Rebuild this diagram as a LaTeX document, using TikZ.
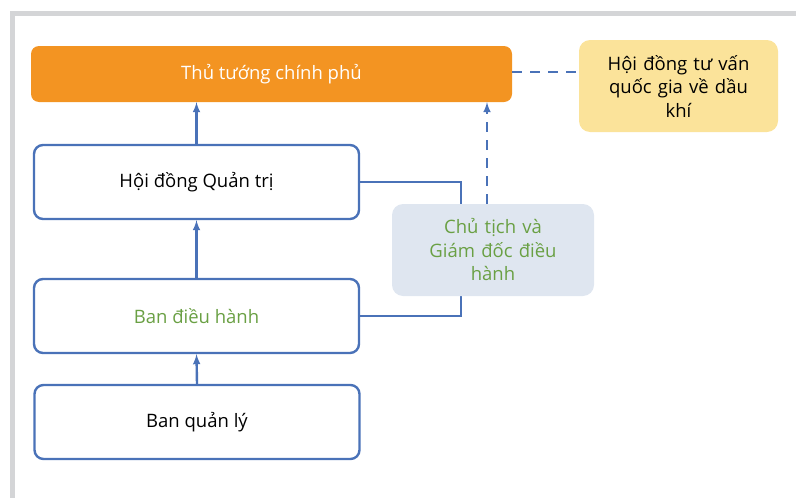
\documentclass[tikz,border=0pt]{standalone}
\usepackage{fontspec}
\setmainfont{Open Sans}
\usepackage{tikz}
\usetikzlibrary{arrows}
\usetikzlibrary{calc,shapes}

\definecolor{cam}{HTML}{F39422}
\definecolor{vang}{HTML}{FBE39A}
\definecolor{xanhnhat}{HTML}{DFE6F0}
\definecolor{xanhday}{HTML}{4A72B8}
\definecolor{xanhla}{HTML}{6AA044}
\definecolor{xamvien}{HTML}{D4D5D7}

\tikzset{
  hop/.style={draw=xanhday,line width=2.4pt,rounded corners=9pt,fill=white,
    minimum width=325pt,minimum height=74pt,align=center},
  mem/.style={rounded corners=11pt,align=center,inner sep=2pt},
  noi/.style={xanhday,line width=2.4pt},
  net/.style={xanhday,line width=2.4pt,dash pattern=on 10pt off 8pt}
}

\begin{document}
\begin{tikzpicture}[x=1pt,y=-1pt,font=\fontsize{18.5}{23.5}\selectfont]
% Khung
\useasboundingbox (0,0) rectangle (796,498);
\draw [xamvien,line width=5pt] (12.5,498) -- (12.5,13.5) -- (796,13.5);
% Hộp
\node [mem,fill=cam,text=white,minimum width=481pt,minimum height=56pt,rounded corners=8pt] (ttcp) at (271.5,74) {Thủ tướng chính phủ};
\node [mem,fill=vang,minimum width=199pt,minimum height=92pt,text width=180pt] (hdtv) at (678.5,86) {Hội đồng tư vấn\\quốc gia về dầu\\khí};
\node [hop] (hdqt) at (196.5,182) {Hội đồng Quản trị};
\node [hop,text=xanhla] (bdh) at (196.5,316) {Ban điều hành};
\node [hop] (bql) at (197,422) {Ban quản lý};
% Đường nối
\draw [noi] (hdqt.east) -- ++(101,0) |- (bdh.east);
\node [mem,fill=xanhnhat,text=xanhla,minimum width=202pt,minimum height=92pt,text width=185pt] (ctgd) at (493,250) {Chủ tịch và\\Giám đốc điều\\hành};
% Flèches
\coordinate (p) at (487,0);
\draw [->,>=latex,noi] (hdqt.north) -- (ttcp.south -| hdqt.north);
\draw [->,>=latex,noi] (bdh.north) -- (hdqt.south);
\draw [->,>=latex,noi] (bql.north) -- (bdh.south);
\draw [->,>=latex,net] (ctgd.north -| p) -- (ttcp.south -| p);
\draw [net] ($(ttcp.east)+(0,-2)$) -- ($(hdtv.west |- ttcp.east)+(0,-2)$);
\end{tikzpicture}
\end{document}
